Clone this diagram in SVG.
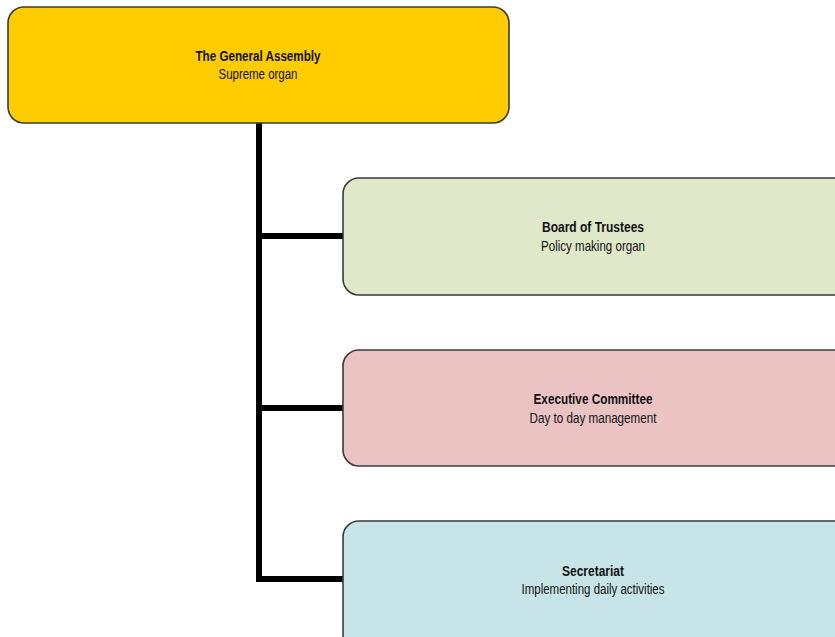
<svg xmlns="http://www.w3.org/2000/svg" width="835" height="637" viewBox="0 0 835 637">
<style>
.box{stroke:#3a3a3a;stroke-width:1.6}
.t{font-family:"Liberation Sans",Arial,sans-serif;font-size:14px;font-weight:bold;fill:#111;text-anchor:middle}
.s{font-family:"Liberation Sans",Arial,sans-serif;font-size:14px;fill:#111;text-anchor:middle}
.c{fill:none;stroke:#000;stroke-width:6}
</style>
<rect width="835" height="637" fill="#fff"/>
<g id="connectors">
<path class="c" d="M259 123 V579 H343"/>
<path class="c" d="M259 236 H343"/>
<path class="c" d="M259 408 H343"/>
</g>
<g id="general-assembly">
<rect class="box" x="8" y="7" width="501" height="116" rx="16" fill="#FFCC00"/>
<text class="t" x="258" y="61" textLength="125" lengthAdjust="spacingAndGlyphs">The General Assembly</text>
<text class="s" x="258" y="79" textLength="79" lengthAdjust="spacingAndGlyphs">Supreme organ</text>
</g>
<g id="board-of-trustees">
<rect class="box" x="343" y="178" width="510" height="117" rx="16" fill="#DFE8C9"/>
<text class="t" x="593" y="232" textLength="102" lengthAdjust="spacingAndGlyphs">Board of Trustees</text>
<text class="s" x="593" y="251" textLength="104" lengthAdjust="spacingAndGlyphs">Policy making organ</text>
</g>
<g id="executive-committee">
<rect class="box" x="343" y="350" width="510" height="116" rx="16" fill="#EBC3C3"/>
<text class="t" x="593" y="404" textLength="119" lengthAdjust="spacingAndGlyphs">Executive Committee</text>
<text class="s" x="593" y="423" textLength="127" lengthAdjust="spacingAndGlyphs">Day to day management</text>
</g>
<g id="secretariat">
<rect class="box" x="343" y="521" width="510" height="130" rx="16" fill="#C7E5E9"/>
<text class="t" x="593" y="576" textLength="62" lengthAdjust="spacingAndGlyphs">Secretariat</text>
<text class="s" x="593" y="594" textLength="143" lengthAdjust="spacingAndGlyphs">Implementing daily activities</text>
</g>
</svg>
